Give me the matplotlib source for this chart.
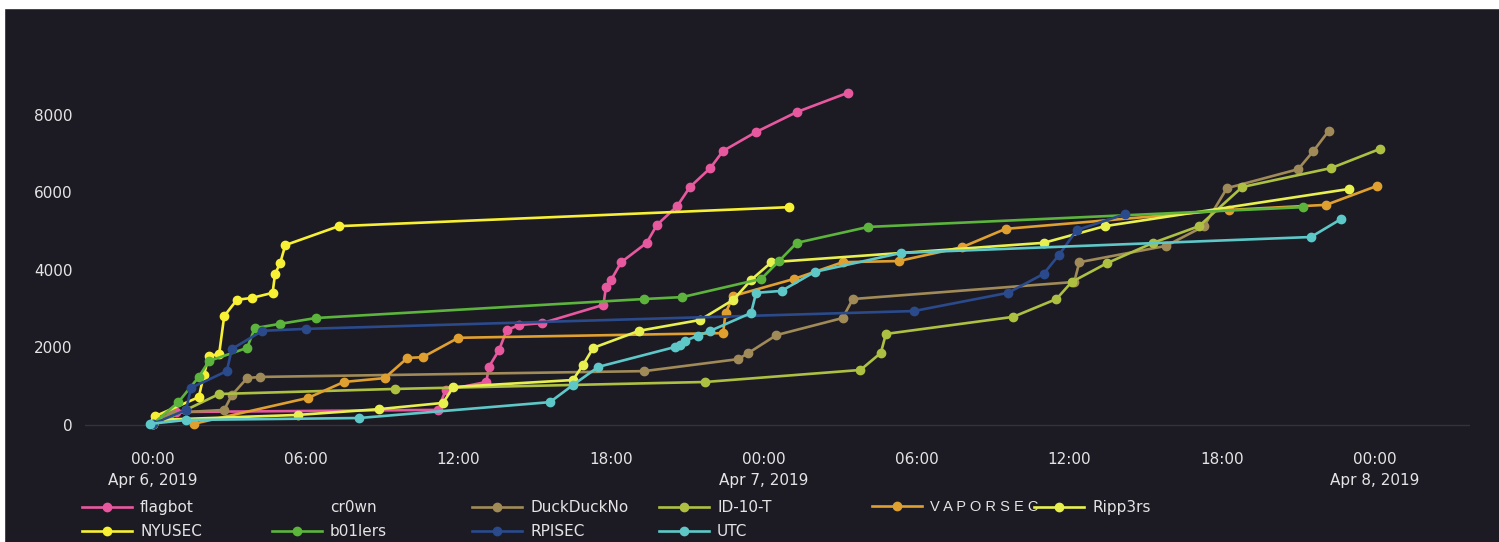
"""CTF scoreboard chart (score over time)"""
import matplotlib.pyplot as plt
from matplotlib.lines import Line2D
from matplotlib.patches import Rectangle

# hours since Apr 6, 2019 00:00 / score
flagbot_h = [0.0, 0.9, 11.2, 11.5, 13.1, 13.2, 13.6, 13.9, 14.4, 15.3, 17.7, 17.8, 18.0, 18.4, 19.4, 19.8, 20.6, 21.1, 21.9, 22.4, 23.7, 25.3, 27.3]
flagbot_s = [25, 335, 390, 900, 1110, 1500, 1935, 2450, 2580, 2630, 3100, 3560, 3740, 4200, 4700, 5160, 5650, 6140, 6630, 7070, 7560, 8075, 8570]

nyusec_h = [0.1, 1.8, 2.0, 2.2, 2.6, 2.8, 3.3, 3.9, 4.7, 4.8, 5.0, 5.2, 7.3, 25.0]
nyusec_s = [230, 720, 1290, 1780, 1830, 2810, 3230, 3280, 3410, 3900, 4180, 4640, 5130, 5620]

ripp3rs_h = [0.1, 5.7, 8.9, 11.4, 11.8, 16.5, 16.9, 17.3, 19.1, 21.5, 22.8, 23.5, 24.3, 35.0, 37.4, 47.0]
ripp3rs_s = [130, 260, 410, 570, 980, 1160, 1550, 1990, 2430, 2710, 3230, 3740, 4200, 4700, 5130, 6090]

b01lers_h = [0.0, 1.0, 1.8, 2.2, 3.7, 4.0, 5.0, 6.4, 19.3, 20.8, 23.9, 24.6, 25.3, 28.1, 45.2]
b01lers_s = [30, 590, 1240, 1650, 1990, 2500, 2610, 2760, 3250, 3300, 3770, 4230, 4700, 5110, 5620]

rpisec_h = [0.0, 1.3, 1.5, 2.9, 3.1, 4.3, 6.0, 29.9, 33.6, 35.0, 35.6, 36.3, 38.2]
rpisec_s = [30, 390, 960, 1390, 1960, 2430, 2480, 2940, 3410, 3900, 4390, 5030, 5440]

utc_h = [-0.1, 1.3, 8.1, 15.6, 16.5, 17.5, 20.5, 20.7, 20.9, 21.4, 21.9, 23.5, 23.7, 24.7, 26.0, 29.4, 45.5, 46.7]
utc_s = [30, 130, 180, 590, 1030, 1500, 2010, 2060, 2170, 2300, 2430, 2890, 3410, 3460, 3950, 4440, 4850, 5320]

vaporsec_h = [1.6, 6.1, 7.5, 9.1, 10.0, 10.6, 12.0, 22.4, 22.5, 22.8, 25.2, 27.1, 29.3, 31.8, 33.5, 42.3, 46.1, 48.1]
vaporsec_s = [30, 700, 1110, 1210, 1730, 1750, 2250, 2370, 2890, 3330, 3770, 4200, 4230, 4590, 5060, 5550, 5680, 6170]

duck_h = [0.0, 0.7, 2.8, 3.1, 3.7, 4.2, 19.3, 23.0, 23.4, 24.5, 27.1, 27.5, 36.2, 36.4, 39.8, 41.3, 42.2, 45.0, 45.6, 46.2]
duck_s = [30, 310, 390, 770, 1210, 1240, 1390, 1700, 1860, 2320, 2760, 3250, 3690, 4200, 4620, 5130, 6110, 6600, 7070, 7590]

id10t_h = [0.0, 1.3, 2.6, 9.5, 21.7, 27.8, 28.6, 28.8, 33.8, 35.5, 36.1, 37.5, 39.3, 41.1, 42.8, 46.3, 48.2]
id10t_s = [30, 390, 800, 930, 1110, 1420, 1860, 2350, 2790, 3250, 3690, 4180, 4700, 5130, 6140, 6630, 7120]

x_ticks = [0, 6, 12, 18, 24, 30, 36, 42, 48]
x_labels = ['00:00\nApr 6, 2019', '06:00', '12:00', '18:00', '00:00\nApr 7, 2019',
            '06:00', '12:00', '18:00', '00:00\nApr 8, 2019']
y_ticks = [0, 2000, 4000, 6000, 8000]

bg = '#1c1b24'
txt = '#e4e4e4'

teams = [
    ('flagbot', flagbot_h, flagbot_s, '#e8589f'),
    ('DuckDuckNo', duck_h, duck_s, '#a08a58'),
    ('ID-10-T', id10t_h, id10t_s, '#aec042'),
    ('V A P O R S E C', vaporsec_h, vaporsec_s, '#e0a030'),
    ('Ripp3rs', ripp3rs_h, ripp3rs_s, '#e8f050'),
    ('NYUSEC', nyusec_h, nyusec_s, '#f7f034'),
    ('b01lers', b01lers_h, b01lers_s, '#5cb43c'),
    ('RPISEC', rpisec_h, rpisec_s, '#2a4a8c'),
    ('UTC', utc_h, utc_s, '#5ec8c8'),
]

W, H = 1499, 542
fig = plt.figure(figsize=(W / 100, H / 100), dpi=100, facecolor=bg)
ax = fig.add_axes([85 / W, 1 - 440 / H, (1470 - 85) / W, 410 / H])
ax.set_facecolor(bg)

handles = {}
for name, h, s, c in teams:
    line, = ax.plot(h, s, color=c, lw=1.9, marker='o', ms=6, label=name)
    handles[name] = line
handles['cr0wn'] = Line2D([], [], color='none', marker='None', label='cr0wn')

ax.axhline(0, color='#34333d', lw=1, zorder=0)
ax.set_xlim(-2.67, 51.75)
ax.set_ylim(-387, 10191)
ax.set_xticks(x_ticks)
ax.set_xticklabels(x_labels, linespacing=1.45)
ax.set_yticks(y_ticks)
ax.tick_params(length=0, colors=txt, labelsize=11)
ax.tick_params(axis='y', pad=9)
ax.tick_params(axis='x', pad=9)
for sp in ax.spines.values():
    sp.set_visible(False)

# legend: one small legend per column
cols = [['flagbot', 'NYUSEC'], ['cr0wn', 'b01lers'], ['DuckDuckNo', 'RPISEC'],
        ['ID-10-T', 'UTC'], ['V A P O R S E C'], ['Ripp3rs']]
col_x = [82, 272, 472, 659, 872, 1034]
for names, x0 in zip(cols, col_x):
    leg = fig.legend([handles[n] for n in names], names, loc='upper left',
                     bbox_to_anchor=(x0 / W, 1 - 500 / H), frameon=False,
                     borderpad=0, borderaxespad=0, handlelength=3.3,
                     handletextpad=0.5, labelspacing=0.62, fontsize=11,
                     labelcolor=txt)
    if names[0].startswith('V A'):
        leg.get_texts()[0].set_family('Liberation Sans')
        leg.get_texts()[0].set_fontsize(10.5)

# white photo edges
fig.add_artist(Rectangle((0, 1 - 8 / H), 1, 8 / H, transform=fig.transFigure,
                         color='white', zorder=10))
fig.add_artist(Rectangle((0, 0), 4 / W, 1, transform=fig.transFigure,
                         color='white', zorder=10))

fig.savefig('out.png', dpi=100, facecolor=bg)
